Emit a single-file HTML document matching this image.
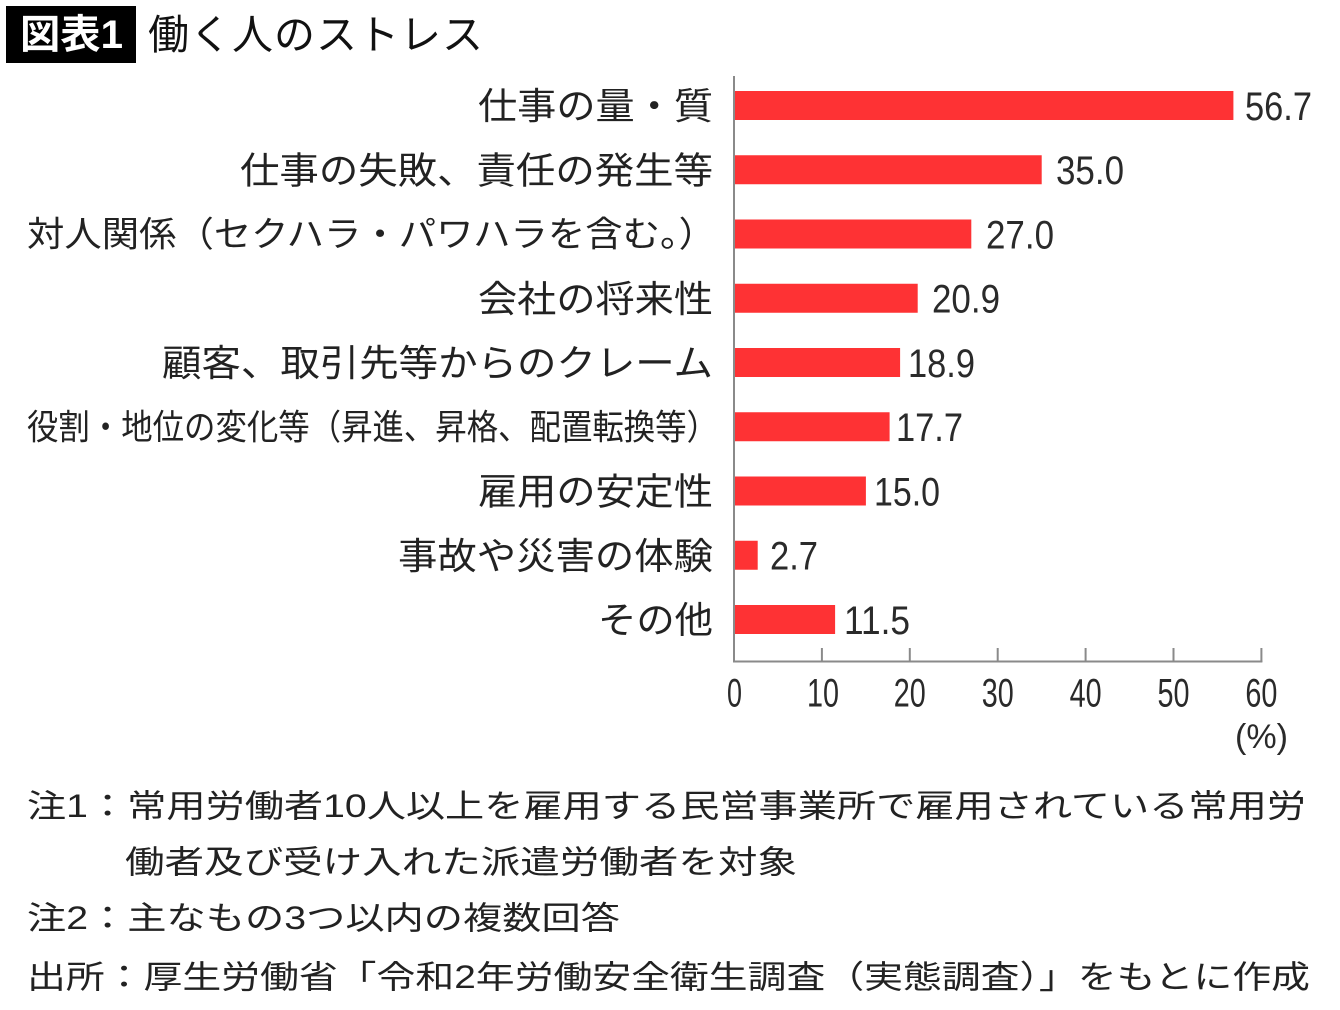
<!DOCTYPE html>
<html><head><meta charset="utf-8"><style>
html,body{margin:0;padding:0;background:#fff;}
svg{display:block;}
.jp{font-family:"Liberation Sans","Noto Sans CJK JP",sans-serif;}
.num{font-family:"Liberation Sans",sans-serif;}
</style></head><body>
<svg width="1340" height="1010" viewBox="0 0 1340 1010" xmlns="http://www.w3.org/2000/svg">
<rect x="0" y="0" width="1340" height="1010" fill="#fff"/>
<!-- Title -->
<rect x="6" y="6" width="130" height="57" fill="#000"/>
<text class="jp" x="20" y="35" dominant-baseline="central" font-size="40" font-weight="700" fill="#fff" textLength="103" lengthAdjust="spacingAndGlyphs">図表1</text>
<text class="jp" x="148" y="35" dominant-baseline="central" font-size="41" font-weight="400" fill="#111" textLength="335" lengthAdjust="spacing">働く人のストレス</text>

<!-- Axes -->
<line x1="734" y1="76" x2="734" y2="662.5" stroke="#8a8a8a" stroke-width="2"/>
<line x1="733" y1="661.5" x2="1262.4" y2="661.5" stroke="#8a8a8a" stroke-width="2"/>
<g stroke="#8a8a8a" stroke-width="2">
<line x1="821.9" y1="648" x2="821.9" y2="662"/>
<line x1="909.8" y1="648" x2="909.8" y2="662"/>
<line x1="997.7" y1="648" x2="997.7" y2="662"/>
<line x1="1085.6" y1="648" x2="1085.6" y2="662"/>
<line x1="1173.5" y1="648" x2="1173.5" y2="662"/>
<line x1="1261.4" y1="648" x2="1261.4" y2="662"/>
</g>

<!-- Bars -->
<g fill="#fe3234">
<rect x="735" y="91" width="498.4" height="29"/>
<rect x="735" y="155.25" width="306.7" height="29"/>
<rect x="735" y="219.5" width="236.3" height="29"/>
<rect x="735" y="283.75" width="182.7" height="29"/>
<rect x="735" y="348" width="165.1" height="29"/>
<rect x="735" y="412.25" width="154.6" height="29"/>
<rect x="735" y="476.5" width="130.9" height="29"/>
<rect x="735" y="540.75" width="22.7" height="29"/>
<rect x="735" y="605" width="100.1" height="29"/>
</g>

<!-- Category labels -->
<g class="jp" font-size="37" fill="#222">
<text x="478" y="106.5" dominant-baseline="central" textLength="235" lengthAdjust="spacingAndGlyphs">仕事の量・質</text>
<text x="240" y="170.75" dominant-baseline="central" textLength="473" lengthAdjust="spacingAndGlyphs">仕事の失敗、責任の発生等</text>
<text x="27" y="235" dominant-baseline="central" font-size="35" textLength="689" lengthAdjust="spacingAndGlyphs">対人関係（セクハラ・パワハラを含む。）</text>
<text x="478" y="299.25" dominant-baseline="central" textLength="235" lengthAdjust="spacingAndGlyphs">会社の将来性</text>
<text x="162" y="363.5" dominant-baseline="central" textLength="551" lengthAdjust="spacingAndGlyphs">顧客、取引先等からのクレーム</text>
<text x="27" y="427.75" dominant-baseline="central" font-size="35" textLength="691" lengthAdjust="spacingAndGlyphs">役割・地位の変化等（昇進、昇格、配置転換等）</text>
<text x="478" y="492" dominant-baseline="central" textLength="235" lengthAdjust="spacingAndGlyphs">雇用の安定性</text>
<text x="398" y="556.25" dominant-baseline="central" textLength="315" lengthAdjust="spacingAndGlyphs">事故や災害の体験</text>
<text x="598" y="620.5" dominant-baseline="central" textLength="115" lengthAdjust="spacingAndGlyphs">その他</text>
</g>

<!-- Value labels -->
<g class="num" font-size="40" fill="#2a2a2a">
<text x="1245" y="119.8" textLength="67" lengthAdjust="spacingAndGlyphs">56.7</text>
<text x="1056" y="184" textLength="68" lengthAdjust="spacingAndGlyphs">35.0</text>
<text x="986" y="248.3" textLength="68" lengthAdjust="spacingAndGlyphs">27.0</text>
<text x="932" y="312.5" textLength="68" lengthAdjust="spacingAndGlyphs">20.9</text>
<text x="908" y="376.8" textLength="67" lengthAdjust="spacingAndGlyphs">18.9</text>
<text x="896" y="441" textLength="67" lengthAdjust="spacingAndGlyphs">17.7</text>
<text x="874" y="505.3" textLength="66" lengthAdjust="spacingAndGlyphs">15.0</text>
<text x="770" y="569.5" textLength="48" lengthAdjust="spacingAndGlyphs">2.7</text>
<text x="844" y="633.8" textLength="66" lengthAdjust="spacingAndGlyphs">11.5</text>
</g>

<!-- Tick labels -->
<g class="num" font-size="40" fill="#2a2a2a">
<text x="727" y="706.3" textLength="15" lengthAdjust="spacingAndGlyphs">0</text>
<text x="807" y="706.3" textLength="32" lengthAdjust="spacingAndGlyphs">10</text>
<text x="893.8" y="706.3" textLength="32" lengthAdjust="spacingAndGlyphs">20</text>
<text x="981.7" y="706.3" textLength="32" lengthAdjust="spacingAndGlyphs">30</text>
<text x="1069.6" y="706.3" textLength="32" lengthAdjust="spacingAndGlyphs">40</text>
<text x="1157.5" y="706.3" textLength="32" lengthAdjust="spacingAndGlyphs">50</text>
<text x="1245.4" y="706.3" textLength="32" lengthAdjust="spacingAndGlyphs">60</text>
</g>
<text class="num" x="1235" y="748" font-size="34" fill="#2a2a2a" textLength="53" lengthAdjust="spacingAndGlyphs">(%)</text>

<!-- Footnotes -->
<g class="jp" font-size="32" fill="#222">
<text x="27" y="806" dominant-baseline="central" textLength="1279" lengthAdjust="spacingAndGlyphs">注1：常用労働者10人以上を雇用する民営事業所で雇用されている常用労</text>
<text x="125" y="862" dominant-baseline="central" textLength="672" lengthAdjust="spacingAndGlyphs">働者及び受け入れた派遣労働者を対象</text>
<text x="27" y="918" dominant-baseline="central" textLength="593" lengthAdjust="spacingAndGlyphs">注2：主なもの3つ以内の複数回答</text>
<text x="27" y="977" dominant-baseline="central" textLength="1283" lengthAdjust="spacingAndGlyphs">出所：厚生労働省「令和2年労働安全衛生調査（実態調査）」をもとに作成</text>
</g>
</svg>
</body></html>
